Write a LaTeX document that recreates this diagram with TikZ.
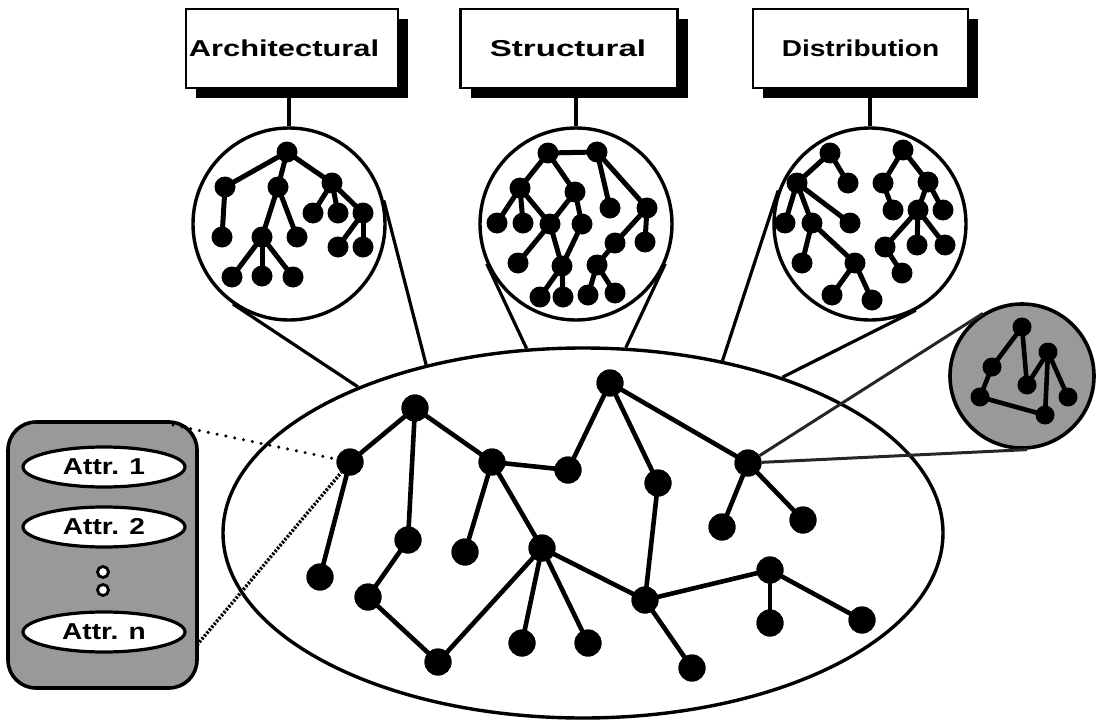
\documentclass[tikz,border=0pt]{standalone}
\usepackage{fontspec}
\newfontfamily\lblfont{Liberation Sans}[FakeStretch=1.22]
\usetikzlibrary{shapes.geometric,shadows}
\begin{document}
\begin{tikzpicture}[x=1pt,y=-1pt,
  gnode/.style={circle,fill=black,inner sep=0pt,minimum size=27pt},
  tnode/.style={circle,fill=black,inner sep=0pt,minimum size=21pt},
  snode/.style={circle,fill=black,inner sep=0pt,minimum size=19pt},
  gedge/.style={line width=4.6pt},
  tedge/.style={line width=5pt},
  sedge/.style={line width=4.6pt},
  lens/.style={circle,draw,line width=3.4pt,inner sep=0pt,minimum size=192pt},
  cone/.style={line width=3.2pt},
  stem/.style={line width=3.2pt},
  labelbox/.style={draw,line width=2.5pt,fill=white,inner sep=0pt,
    minimum height=79pt,font=\lblfont\bfseries\fontsize{23}{26}\selectfont,
    drop shadow={shadow xshift=10pt,shadow yshift=-10pt,fill=black,opacity=1}},
  attr/.style={ellipse,draw,line width=3.2pt,fill=white,inner sep=0pt,
    minimum width=162pt,minimum height=40pt,
    font=\lblfont\bfseries\fontsize{23}{26}\selectfont},
  dotc/.style={circle,draw,line width=2.8pt,fill=white,inner sep=0pt,minimum size=11pt},
  shade/.style={fill=black!40},
  dotline/.style={line width=3.4pt,dash pattern=on 0pt off 9pt,line cap=round},
  hatchline/.style={line width=3.4pt,dash pattern=on 2.2pt off 1.6pt},
  zoomline/.style={line width=3pt,black!85}
]
\useasboundingbox (0,0) rectangle (1098,725);

% ---------------- category boxes ----------------
\node[labelbox,minimum width=212pt] (arch) at (292,48.5) {};
\node[labelbox,minimum width=217pt] (struct) at (569,48.5) {};
\node[labelbox,minimum width=215pt] (distr) at (860.5,48.5) {};
\node[font=\lblfont\bfseries\fontsize{23}{26}\selectfont,inner sep=0pt] (archtxt) at (284,48.5) {\scalebox{1.1}[1]{Architectural}};
\node[font=\lblfont\bfseries\fontsize{23}{26}\selectfont,inner sep=0pt] (structtxt) at (568,48.5) {\scalebox{1.18}[1]{Structural}};
\node[font=\lblfont\bfseries\fontsize{23}{26}\selectfont,inner sep=0pt] (distrtxt) at (860.5,48.5) {Distribution};

% ---------------- magnifying circles ----------------
\node[lens] (c1) at (289,224) {};
\node[lens] (c2) at (576,224) {};
\node[lens] (c3) at (870,224) {};

\draw[stem] (arch.south -| c1.north) -- (c1.north);
\draw[stem] (struct.south -| c2.north) -- (c2.north);
\draw[stem] (distr.south -| c3.north) -- (c3.north);

% ---------------- main ellipse ----------------
\node[ellipse,draw,line width=3.4pt,inner sep=0pt,minimum width=720pt,minimum height=370pt] (E) at (583,533) {};

\draw[cone] (E.147.5) -- (c1.-125.1);
\draw[cone] (E.133.6) -- (c1.14.5);
\draw[cone] (E.107.0) -- (c2.-156.1);
\draw[cone] (E.77.1) -- (c2.-24.2);
\draw[cone] (E.51.3) -- (c3.160.7);
\draw[cone] (E.38.2) -- (c3.-62.9);

% ---------------- tree in the first circle ----------------
\foreach \n/\x/\y in {a0/287/152,a1/225/187,a2/278/187,a3/332/183,a4/222/237,
  a5/262/237,a6/297/237,a7/313/213,a8/338/213,a9/363/213,a10/338/247,
  a11/363/247,a12/232/277,a13/262/276,a14/293/277}
  \node[tnode] (\n) at (\x,\y) {};
\foreach \p/\q in {a0/a1,a0/a2,a0/a3,a1/a4,a2/a5,a2/a6,a3/a7,a3/a8,a3/a9,
  a9/a10,a9/a11,a5/a12,a5/a13,a5/a14}
  \draw[tedge] (\p.center) -- (\q.center);

% ---------------- graph in the second circle ----------------
\foreach \n/\x/\y in {b0/548/153,b1/597/152,b2/520/188,b3/575/192,b4/610/208,
  b5/647/208,b6/497/223,b7/523/223,b8/550/224,b9/582/224,b10/518/263,
  b11/562/266,b12/540/297,b13/563/297,b14/615/243,b15/645/242,b16/597/265,
  b17/588/295,b18/615/293}
  \node[tnode] (\n) at (\x,\y) {};
\foreach \p/\q in {b0/b1,b0/b2,b0/b3,b2/b6,b2/b7,b2/b8,b3/b8,b3/b9,b8/b10,
  b8/b11,b9/b11,b11/b12,b11/b13,b1/b4,b1/b5,b5/b14,b5/b15,b14/b16,b16/b17,b16/b18}
  \draw[tedge] (\p.center) -- (\q.center);

% ---------------- trees in the third circle ----------------
\foreach \n/\x/\y in {d0/830/153,d1/797/183,d2/848/183,d3/785/223,d4/812/223,
  d5/850/223,d6/802/263,d7/855/263,d8/832/295,d9/872/300,
  f0/903/150,f1/883/183,f2/928/182,f3/893/210,f4/918/210,f5/943/210,
  f6/885/247,f7/917/245,f8/945/245,f9/902/273}
  \node[tnode] (\n) at (\x,\y) {};
\foreach \p/\q in {d0/d1,d0/d2,d1/d3,d1/d4,d1/d5,d4/d6,d4/d7,d7/d8,d7/d9,
  f0/f1,f0/f2,f1/f3,f2/f4,f2/f5,f4/f6,f4/f7,f4/f8,f6/f9}
  \draw[tedge] (\p.center) -- (\q.center);

% ---------------- small shaded circle ----------------
\node[circle,draw,line width=3.6pt,shade,inner sep=0pt,minimum size=144pt] (s) at (1022,376) {};
\foreach \n/\x/\y in {s1/1022/327,s2/992/367,s3/980/397,s4/1027/385,
  s5/1048/352,s6/1068/397,s7/1045/415}
  \node[snode] (\n) at (\x,\y) {};
\foreach \p/\q in {s1/s2,s2/s3,s1/s4,s4/s5,s5/s7,s5/s6,s3/s7}
  \draw[sedge] (\p.center) -- (\q.center);

% ---------------- attribute record ----------------
\node[draw,rounded corners=28pt,line width=3.6pt,shade,inner sep=0pt,
  minimum width=189pt,minimum height=266pt] (rec) at (102.5,555) {};
\node[attr] (at1) at (104,467) {Attr.\hspace{0.45em}1};
\node[attr] (at2) at (104,527) {Attr.\hspace{0.45em}2};
\node[attr] (atn) at (104,632) {Attr.\hspace{0.45em}n};
\node[dotc] (dt1) at (103,572) {};
\node[dotc] (dt2) at (103,590) {};

% ---------------- main graph ----------------
\foreach \n/\x/\y in {n1/415/408,n2/350/462,n3/492/462,n4/568/470,n5/320/577,
  n6/408/540,n7/465/552,n8/542/548,n9/368/597,n10/438/662,n11/522/643,
  m1/610/383,m3/658/483,m4/748/463,m5/722/527,m6/803/520,m8/645/600,
  m9/770/570,m10/770/623,m11/862/620,m12/588/643,m13/692/668}
  \node[gnode] (\n) at (\x,\y) {};
\foreach \p/\q in {n1/n2,n1/n3,n1/n6,n2/n5,n3/n4,n3/n7,n3/n8,n6/n9,n9/n10,
  n10/n8,n8/n11,n8/m12,n8/m8,n4/m1,m1/m3,m1/m4,m3/m8,m4/m5,m4/m6,m8/m9,
  m8/m13,m9/m10,m9/m11}
  \draw[gedge] (\p.center) -- (\q.center);

% ---------------- zoom connectors ----------------
\coordinate (recA) at (173,425);
\coordinate (recB) at (197,645);
\draw[dotline] (recA) -- (n2);
\draw[hatchline] (recB) -- (n2);
\draw[zoomline] (m4) -- (s.122.1);
\draw[zoomline] (m4) -- (s.-86.9);

% redraw nodes above the edges
\foreach \n in {n1,n2,n3,n4,n5,n6,n7,n8,n9,n10,n11,m1,m3,m4,m5,m6,m8,m9,m10,m11,m12,m13}
  \fill (\n) circle (13.5pt);
\end{tikzpicture}
\end{document}
